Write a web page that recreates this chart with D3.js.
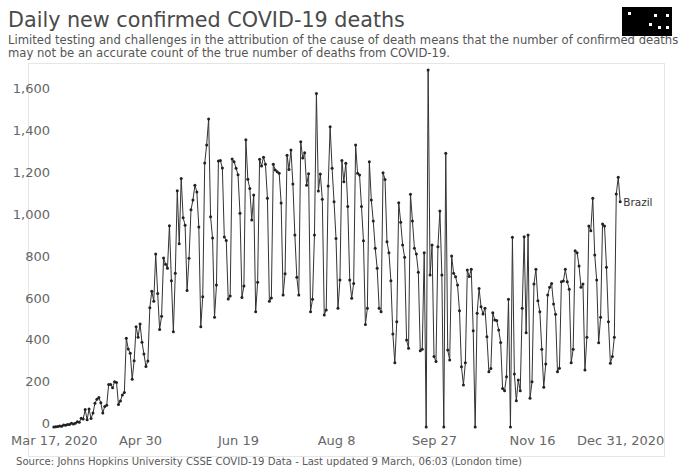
<!DOCTYPE html>
<html><head><meta charset="utf-8">
<script src="https://cdn.jsdelivr.net/npm/d3@7"></script>
<style>
html,body{margin:0;padding:0;background:#fff;}
svg{display:block;font-family:"DejaVu Sans",sans-serif;}
</style></head><body>
<svg id="chart" width="680" height="468"></svg>
<script>
// Daily new confirmed COVID-19 deaths, Brazil, 17 Mar – 31 Dec 2020 (one value per day)
const startDate = "2020-03-17";
const dailyDeaths = [
  1,2,3,5,4,10,9,12,13,18,15,19,25,23,42,39,84,35,86,41,67,114,133,141,116,67,99,105,204,204,188,217,213,108,125,154,165,425,373,353,229,317,480,430,
  493,406,349,290,316,571,650,602,827,639,467,530,808,779,759,963,700,456,735,1130,876,1188,1001,965,653,807,1039,1086,1156,1124,956,480,623,1262,1349,1473,1005,904,525,679,
  1272,1274,1239,909,892,612,627,1282,1269,1238,1206,1022,620,675,1374,1185,1141,990,1109,552,692,
  1280,1248,1290,1256,1094,602,617,1256,1229,1221,1213,1071,631,733,
  1300,1232,1325,1162,918,716,631,1364,1286,1312,1156,1211,552,611,918,1595,1129,1210,1089,536,560,1152,1436,1237,1077,902,568,703,1274,1173,1261,1054,703,616,687,
  1349,1213,1205,1054,891,491,568,1269,1086,985,855,759,568,552,1216,1184,886,834,700,445,308,504,1073,979,870,812,416,377,1113,985,855,827,740,365,372,834,
  0,1707,727,870,337,313,862,1033,727,0,1309,368,321,818,735,719,679,556,289,201,308,751,720,754,461,0,544,663,575,541,568,432,265,280,547,
  512,509,464,405,185,174,241,611,0,907,254,126,225,174,568,910,451,918,138,217,684,754,604,552,372,190,302,631,668,687,588,540,265,281,
  695,698,754,695,659,308,372,843,834,770,668,684,273,429,961,939,1094,823,703,403,525,971,961,764,504,305,337,429,1114,1194,1077
];
const seriesName = "Brazil";
const xTickDates = ["2020-03-17","2020-04-30","2020-06-19","2020-08-08","2020-09-27","2020-11-16","2020-12-31"];
const xTickLabels = ["Mar 17, 2020","Apr 30","Jun 19","Aug 8","Sep 27","Nov 16","Dec 31, 2020"];
const yTickValues = [0,200,400,600,800,1000,1200,1400,1600];

const titleText = "Daily new confirmed COVID-19 deaths";
const subtitleLines = [
  "Limited testing and challenges in the attribution of the cause of death means that the number of confirmed deaths",
  "may not be an accurate count of the true number of deaths from COVID-19."
];
const sourceText = "Source: Johns Hopkins University CSSE COVID-19 Data - Last updated 9 March, 06:03 (London time)";

const parseDay = d3.utcParse("%Y-%m-%d");
const t0 = parseDay(startDate);
const series = dailyDeaths.map((v, i) => ({ date: d3.utcDay.offset(t0, i), value: v }));

const svg = d3.select("#chart");

// scale text so its rendered width equals w
function fitWidth(sel, w) {
  const fs = parseFloat(sel.attr("font-size"));
  const len = sel.node().getComputedTextLength();
  sel.attr("font-size", (fs * w / len).toFixed(2));
}

// light frame around the chart area
svg.append("rect")
  .attr("x", 28.5).attr("y", 63.5).attr("width", 636).attr("height", 393)
  .attr("fill", "none").attr("stroke", "#e6e6e6").attr("stroke-width", 1);

// header
const title = svg.append("text").attr("x", 8).attr("y", 27)
  .attr("font-size", 21).attr("fill", "#4a4a4a").text(titleText);
fitWidth(title, 397);

const sub2 = svg.append("text").attr("x", 8).attr("y", 57)
  .attr("font-size", 11).attr("fill", "#555").text(subtitleLines[1]);
fitWidth(sub2, 442);
svg.append("text").attr("x", 8).attr("y", 44)
  .attr("font-size", sub2.attr("font-size")).attr("fill", "#555").text(subtitleLines[0]);

// logo block
const logo = svg.append("g").attr("transform", "translate(622,7)");
logo.append("rect").attr("width", 50).attr("height", 29).attr("fill", "#000");
[[6,5],[32,7],[44,7],[27,16],[36,19],[44,19]].forEach(p =>
  logo.append("rect").attr("x", p[0]).attr("y", p[1]).attr("width", 3).attr("height", 3).attr("fill", "#fff"));

// scales
const x = d3.scaleUtc().domain([t0, series[series.length - 1].date]).range([53.8, 620.2]);
const y = d3.scaleLinear().domain([0, 1600]).range([427.1, 92.4]);

// y axis
const gy = svg.append("g").attr("transform", "translate(50,0)")
  .call(d3.axisLeft(y).tickValues(yTickValues).tickFormat(d3.format(",")).tickSize(0).tickPadding(0));
gy.select(".domain").remove();
gy.selectAll("text").attr("dy", null).attr("y", 0.5)
  .attr("font-size", 13).attr("font-family", "DejaVu Sans, sans-serif").attr("fill", "#666");

// x axis
const gx = svg.append("g").attr("transform", "translate(0,445)")
  .call(d3.axisBottom(x).tickValues(xTickDates.map(parseDay))
    .tickFormat((d, i) => xTickLabels[i]).tickSize(0).tickPadding(0));
gx.select(".domain").remove();
gx.selectAll("text").attr("dy", null).attr("y", 0)
  .attr("font-size", 13).attr("font-family", "DejaVu Sans, sans-serif").attr("fill", "#666");

// series line with point markers
const line = d3.line().x(d => x(d.date)).y(d => y(d.value));
svg.append("path").datum(series)
  .attr("d", line).attr("fill", "none").attr("stroke", "#333").attr("stroke-width", 1)
  .attr("stroke-linejoin", "round");
svg.append("g").selectAll("circle").data(series).join("circle")
  .attr("cx", d => x(d.date)).attr("cy", d => y(d.value)).attr("r", 1.5).attr("fill", "#222");

// series label at the last point
const last = series[series.length - 1];
svg.append("text").attr("x", x(last.date) + 3).attr("y", y(last.value) + 3.8)
  .attr("font-size", 10.5).attr("fill", "#333").text(seriesName);

// footer
svg.append("text").attr("x", 16).attr("y", 465)
  .attr("font-size", 10.5).attr("fill", "#5a5a5a")
  .attr("textLength", 506).attr("lengthAdjust", "spacingAndGlyphs")
  .text(sourceText);
</script>
</body></html>
